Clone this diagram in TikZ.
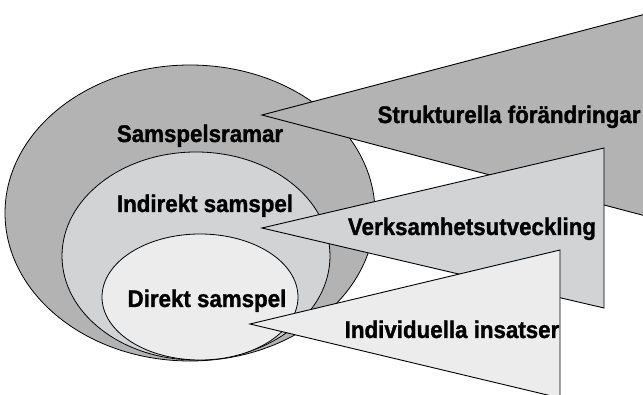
\documentclass[tikz,border=0pt]{standalone}
\usepackage{fontspec}
\setmainfont{Liberation Sans}
\newfontfamily\lblfont{Liberation Sans Bold}[FakeStretch=0.93,FakeBold=1.2]
\usepackage{tikz}
\definecolor{ramgray}{RGB}{179,179,179}
\definecolor{indgray}{RGB}{210,211,213}
\definecolor{dirgray}{RGB}{235,236,235}

\begin{document}
\begin{tikzpicture}[x=1pt,y=-1pt,
		ring/.style={draw,line width=0.8pt},
		wedge/.style={draw,line width=0.9pt,line join=miter},
		lbl/.style={font=\lblfont\fontsize{24}{24}\selectfont,anchor=base,inner sep=0pt}]

		\useasboundingbox (0,0) rectangle (643,395);
		\clip (0,0) rectangle (643,395);

		\coordinate (O1) at (190,213);
		\coordinate (O2) at (196,256);
		\coordinate (O3) at (200,297);

		% spetsar och hörn
		\coordinate (S) at (262,115);
		\coordinate (S1) at (680,5);
		\coordinate (S2) at (680,225);
		\coordinate (V) at (262,228);
		\coordinate (V1) at (604,148);
		\coordinate (V2) at (604,308);
		\coordinate (I) at (250,324);
		\coordinate (I1) at (560,250);
		\coordinate (I2) at (560,398);

		\draw [ring, fill=ramgray] (O1) ellipse [x radius=185, y radius=148];
		\draw [ring, fill=indgray] (O2) ellipse [x radius=134, y radius=104];
		\draw [ring, fill=dirgray] (O3) ellipse [x radius=98, y radius=63];

		\draw [wedge, fill=ramgray] (S)--(S1)--(S2)--cycle;
		\draw [wedge, fill=indgray] (V)--(V1)--(V2)--cycle;
		\draw [wedge, fill=dirgray] (I)--(I1)--(I2)--cycle;

		\node [lbl] (ramar) at (200,142) {Samspelsramar};
		\node [lbl] (indirekt) at (205,212) {Indirekt samspel};
		\node [lbl] (direkt) at (207,307) {Direkt samspel};
		\node [lbl] (struktur) at (509,123) {Strukturella förändringar};
		\node [lbl] (verksamhet) at (472,235) {Verksamhetsutveckling};
		\node [lbl] (individ) at (452,338) {Individuella insatser};

\end{tikzpicture}
\end{document}
